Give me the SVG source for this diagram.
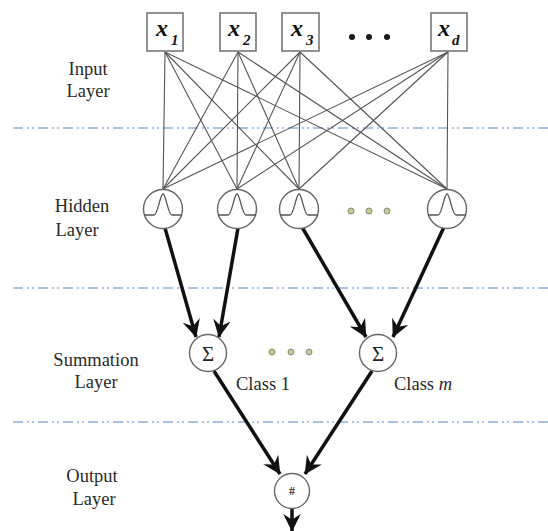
<svg xmlns="http://www.w3.org/2000/svg" width="548" height="531" viewBox="0 0 548 531">
<defs>
<style>
.lbl{font-family:'Liberation Serif','DejaVu Serif',serif;font-size:18.5px;fill:#2a2a2a;text-anchor:middle}
.sep{stroke:#a9c3e4;stroke-width:2;stroke-dasharray:10 4 2 3 2 4;fill:none}
.box{fill:#fff;stroke:#777;stroke-width:1.6}
.node{fill:#fff;stroke:#666;stroke-width:1.4}
.bump{fill:none;stroke:#555;stroke-width:1.3}
.thin{stroke:#555;stroke-width:1.1;fill:none}
.thick{stroke:#111;stroke-width:3.5;fill:none;marker-end:url(#ah)}
.xv{font-family:'Liberation Serif','DejaVu Serif',serif;font-style:italic;font-weight:bold;fill:#111}
.dot{fill:#1a1a1a}
.gdot{fill:#c8cc8a;stroke:#888;stroke-width:1}
.sig{font-family:'Liberation Serif','DejaVu Serif',serif;font-size:21px;fill:#222;text-anchor:middle}
</style>
<marker id="ah" markerUnits="userSpaceOnUse" markerWidth="19" markerHeight="19" viewBox="0 0 16 16" refX="14.5" refY="8" orient="auto">
<path d="M0,0.5 L15,8 L0,15.5 L5,8 Z" fill="#111"/>
</marker>
</defs>
<rect width="548" height="531" fill="#fff"/>

<g id="separators">
<line class="sep" x1="13" y1="128" x2="548" y2="128"/>
<line class="sep" x1="13" y1="288" x2="548" y2="288"/>
<line class="sep" x1="13" y1="422" x2="548" y2="422"/>
</g>

<g id="layer-labels">
<text class="lbl" x="88" y="75">Input</text>
<text class="lbl" x="88" y="97">Layer</text>
<text class="lbl" x="82" y="212">Hidden</text>
<text class="lbl" x="77" y="236">Layer</text>
<text class="lbl" x="96" y="366">Summation</text>
<text class="lbl" x="96" y="388">Layer</text>
<text class="lbl" x="92" y="482">Output</text>
<text class="lbl" x="94" y="505">Layer</text>
</g>

<g id="connectors">
<g id="input-hidden">
<line class="thin" x1="165" y1="52" x2="163" y2="189"/>
<line class="thin" x1="165" y1="52" x2="237" y2="189"/>
<line class="thin" x1="165" y1="52" x2="299" y2="189"/>
<line class="thin" x1="165" y1="52" x2="447" y2="189"/>
<line class="thin" x1="238" y1="52" x2="163" y2="189"/>
<line class="thin" x1="238" y1="52" x2="237" y2="189"/>
<line class="thin" x1="238" y1="52" x2="299" y2="189"/>
<line class="thin" x1="238" y1="52" x2="447" y2="189"/>
<line class="thin" x1="300" y1="52" x2="163" y2="189"/>
<line class="thin" x1="300" y1="52" x2="237" y2="189"/>
<line class="thin" x1="300" y1="52" x2="299" y2="189"/>
<line class="thin" x1="300" y1="52" x2="447" y2="189"/>
<line class="thin" x1="448" y1="52" x2="163" y2="189"/>
<line class="thin" x1="448" y1="52" x2="237" y2="189"/>
<line class="thin" x1="448" y1="52" x2="299" y2="189"/>
<line class="thin" x1="448" y1="52" x2="447" y2="189"/>
</g>
<line class="thick" x1="165" y1="228" x2="196" y2="337"/>
<line class="thick" x1="238" y1="228" x2="219" y2="337"/>
<line class="thick" x1="302" y1="227" x2="366" y2="337"/>
<line class="thick" x1="444" y1="227" x2="393" y2="337"/>
<line class="thick" x1="214" y1="371" x2="280" y2="474"/>
<line class="thick" x1="372" y1="371" x2="305" y2="474"/>
<line class="thick" x1="292" y1="509" x2="292" y2="531"/>
</g>

<g id="input-x1">
<rect class="box" x="147" y="13" width="36" height="38"/>
<text class="xv" x="156" y="36" font-size="24">x</text>
<text class="xv" x="171" y="45" font-size="15">1</text>
</g>
<g id="input-x2">
<rect class="box" x="220" y="13" width="36" height="38"/>
<text class="xv" x="228" y="36" font-size="24">x</text>
<text class="xv" x="243" y="45" font-size="15">2</text>
</g>
<g id="input-x3">
<rect class="box" x="282" y="13" width="37" height="38"/>
<text class="xv" x="291" y="36" font-size="24">x</text>
<text class="xv" x="306" y="45" font-size="15">3</text>
</g>
<g id="input-dots">
<circle class="dot" cx="352" cy="37" r="3"/>
<circle class="dot" cx="369" cy="37" r="3"/>
<circle class="dot" cx="387" cy="37" r="3"/>
</g>
<g id="input-xd">
<rect class="box" x="431" y="13" width="36" height="38"/>
<text class="xv" x="438" y="36" font-size="24">x</text>
<text class="xv" x="452" y="45" font-size="15">d</text>
</g>

<g id="hidden-1">
<circle class="node" cx="163" cy="209" r="19.5"/>
<path class="bump" d="M144,215 L154,215 C158,215 160,194 163,194 C166,194 168,215 172,215 L182,215"/>
</g>
<g id="hidden-2">
<circle class="node" cx="237" cy="209" r="19.5"/>
<path class="bump" d="M218,215 L228,215 C232,215 234,194 237,194 C240,194 242,215 246,215 L256,215"/>
</g>
<g id="hidden-3">
<circle class="node" cx="299" cy="209" r="19.5"/>
<path class="bump" d="M280,215 L290,215 C294,215 296,194 299,194 C302,194 304,215 308,215 L318,215"/>
</g>
<g id="hidden-dots">
<circle class="gdot" cx="351" cy="211" r="3"/>
<circle class="gdot" cx="369" cy="211" r="3"/>
<circle class="gdot" cx="387" cy="211" r="3"/>
</g>
<g id="hidden-4">
<circle class="node" cx="447" cy="209" r="19.5"/>
<path class="bump" d="M428,215 L438,215 C442,215 444,194 447,194 C450,194 452,215 456,215 L466,215"/>
</g>

<g id="sum-1">
<circle class="node" cx="208" cy="353" r="18.5"/>
<text class="sig" x="208" y="361">Σ</text>
<text class="lbl" x="263" y="390">Class 1</text>
</g>
<g id="sum-dots">
<circle class="gdot" cx="272" cy="352" r="3"/>
<circle class="gdot" cx="291" cy="352" r="3"/>
<circle class="gdot" cx="309" cy="352" r="3"/>
</g>
<g id="sum-m">
<circle class="node" cx="378" cy="353" r="18.5"/>
<text class="sig" x="378" y="361">Σ</text>
<text class="lbl" x="423" y="390">Class <tspan font-style="italic">m</tspan></text>
</g>

<g id="output">
<circle class="node" cx="292" cy="491" r="17.5"/>
<text x="292" y="495" font-family="'Liberation Serif','DejaVu Serif',serif" font-size="12" font-weight="bold" fill="#333" text-anchor="middle">#</text>
</g>
</svg>
